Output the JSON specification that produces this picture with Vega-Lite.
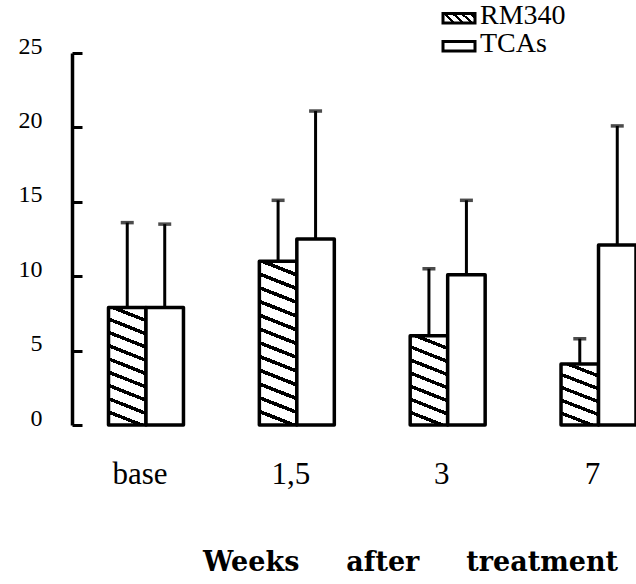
{
  "$schema": "https://vega.github.io/schema/vega-lite/v6.json",
  "autosize": {"type": "none"},
  "padding": {"left": 72, "top": 53, "right": 0, "bottom": 159},
  "width": 564,
  "height": 372,
  "background": "white",
  "config": {
    "view": {"stroke": null},
    "axis": {"grid": false}
  },
  "data": {
    "values": [
      {"week": "base", "group": "RM340", "mean": 7.9, "upper": 13.6},
      {"week": "base", "group": "TCAs", "mean": 7.9, "upper": 13.5},
      {"week": "1,5", "group": "RM340", "mean": 11.0, "upper": 15.1},
      {"week": "1,5", "group": "TCAs", "mean": 12.5, "upper": 21.1},
      {"week": "3", "group": "RM340", "mean": 6.0, "upper": 10.5},
      {"week": "3", "group": "TCAs", "mean": 10.1, "upper": 15.1},
      {"week": "7", "group": "RM340", "mean": 4.1, "upper": 5.8},
      {"week": "7", "group": "TCAs", "mean": 12.1, "upper": 20.1}
    ]
  },
  "encoding": {
    "x": {
      "field": "week", "type": "nominal", "sort": ["base", "1,5", "3", "7"],
      "scale": {"paddingInner": 0.503, "paddingOuter": 0.121, "align": 1},
      "axis": {
        "domain": false, "ticks": false, "labelAngle": 0,
        "labelFont": "Liberation Serif", "labelFontSize": 31, "labelColor": "black",
        "labelBaseline": "alphabetic", "labelPadding": 58, "labelOffset": -6,
        "title": "Weeks\u00a0\u00a0\u00a0\u00a0 after\u00a0\u00a0\u00a0\u00a0 treatment",
        "titleFont": "DejaVu Serif", "titleFontWeight": "bold", "titleFontSize": 27, "titleColor": "black",
        "titleX": 338, "titleY": 145, "titleBaseline": "alphabetic", "titleAlign": "center"
      }
    },
    "xOffset": {"field": "group", "type": "nominal", "sort": ["RM340", "TCAs"], "scale": {"paddingInner": 0, "paddingOuter": 0}},
    "y": {
      "field": "mean", "type": "quantitative",
      "scale": {"domain": [0, 25], "nice": false, "zero": true},
      "axis": {
        "values": [0, 5, 10, 15, 20, 25], "title": null,
        "domainColor": "black", "domainWidth": 3.5,
        "tickColor": "black", "tickWidth": 3, "tickSize": -10,
        "labelFont": "Liberation Serif", "labelFontSize": 24, "labelColor": "black",
        "labelBaseline": "alphabetic", "labelPadding": 40
      }
    }
  },
  "layer": [
    {
      "mark": {"type": "bar", "strokeWidth": 3.5, "strokeJoin": "round"},
      "encoding": {
        "stroke": {
          "field": "group", "type": "nominal", "sort": ["RM340", "TCAs"],
          "scale": {"range": ["black", "black"]},
          "legend": {
            "orient": "none", "legendX": 373, "legendY": -51, "title": null, "padding": 0,
            "symbolType": "M-1.6,-0.25L1.6,-0.25L1.6,0.7L-1.6,0.7Z", "symbolSize": 400,
            "symbolStrokeWidth": 3, "symbolStrokeColor": "black",
            "labelFont": "Liberation Serif", "labelFontSize": 28, "labelColor": "black",
            "labelOffset": 7, "rowPadding": -3,
            "encoding": {
              "symbols": {
                "fill": {
                  "condition": {"test": "datum.value === 'RM340'", "value": {"gradient": "linear", "x1": 1, "y1": 0, "x2": 0, "y2": 0.33, "stops": [
                    {"offset": 0, "color": "white"},
                    {"offset": 0.081, "color": "white"}, {"offset": 0.081, "color": "black"}, {"offset": 0.169, "color": "black"}, {"offset": 0.169, "color": "white"},
                    {"offset": 0.331, "color": "white"}, {"offset": 0.331, "color": "black"}, {"offset": 0.419, "color": "black"}, {"offset": 0.419, "color": "white"},
                    {"offset": 0.581, "color": "white"}, {"offset": 0.581, "color": "black"}, {"offset": 0.669, "color": "black"}, {"offset": 0.669, "color": "white"},
                    {"offset": 0.831, "color": "white"}, {"offset": 0.831, "color": "black"}, {"offset": 0.919, "color": "black"}, {"offset": 0.919, "color": "white"},
                    {"offset": 1, "color": "white"}
                  ]}},
                  "value": "white"
                },
                "stroke": {"value": "black"},
                "strokeWidth": {"value": 3}
              }
            }
          }
        },
        "fill": {
          "condition": [
            {"test": "datum.group === 'RM340' && datum.week === 'base'", "value": {"gradient": "linear", "x1": 0.563, "y1": 0, "x2": 0.437, "y2": 1, "stops": [
              {"offset": 0, "color": "white"},
              {"offset": 0.04, "color": "white"}, {"offset": 0.04, "color": "black"}, {"offset": 0.0711, "color": "black"}, {"offset": 0.0711, "color": "white"},
              {"offset": 0.1511, "color": "white"}, {"offset": 0.1511, "color": "black"}, {"offset": 0.1822, "color": "black"}, {"offset": 0.1822, "color": "white"},
              {"offset": 0.2622, "color": "white"}, {"offset": 0.2622, "color": "black"}, {"offset": 0.2933, "color": "black"}, {"offset": 0.2933, "color": "white"},
              {"offset": 0.3733, "color": "white"}, {"offset": 0.3733, "color": "black"}, {"offset": 0.4044, "color": "black"}, {"offset": 0.4044, "color": "white"},
              {"offset": 0.4844, "color": "white"}, {"offset": 0.4844, "color": "black"}, {"offset": 0.5156, "color": "black"}, {"offset": 0.5156, "color": "white"},
              {"offset": 0.5956, "color": "white"}, {"offset": 0.5956, "color": "black"}, {"offset": 0.6267, "color": "black"}, {"offset": 0.6267, "color": "white"},
              {"offset": 0.7067, "color": "white"}, {"offset": 0.7067, "color": "black"}, {"offset": 0.7378, "color": "black"}, {"offset": 0.7378, "color": "white"},
              {"offset": 0.8178, "color": "white"}, {"offset": 0.8178, "color": "black"}, {"offset": 0.8489, "color": "black"}, {"offset": 0.8489, "color": "white"},
              {"offset": 0.9289, "color": "white"}, {"offset": 0.9289, "color": "black"}, {"offset": 0.96, "color": "black"}, {"offset": 0.96, "color": "white"},
              {"offset": 1, "color": "white"}
            ]}},
            {"test": "datum.group === 'RM340' && datum.week === '1,5'", "value": {"gradient": "linear", "x1": 0.545, "y1": 0, "x2": 0.455, "y2": 1, "stops": [
              {"offset": 0, "color": "white"},
              {"offset": 0.03, "color": "white"}, {"offset": 0.03, "color": "black"}, {"offset": 0.0533, "color": "black"}, {"offset": 0.0533, "color": "white"},
              {"offset": 0.1133, "color": "white"}, {"offset": 0.1133, "color": "black"}, {"offset": 0.1367, "color": "black"}, {"offset": 0.1367, "color": "white"},
              {"offset": 0.1967, "color": "white"}, {"offset": 0.1967, "color": "black"}, {"offset": 0.22, "color": "black"}, {"offset": 0.22, "color": "white"},
              {"offset": 0.28, "color": "white"}, {"offset": 0.28, "color": "black"}, {"offset": 0.3033, "color": "black"}, {"offset": 0.3033, "color": "white"},
              {"offset": 0.3633, "color": "white"}, {"offset": 0.3633, "color": "black"}, {"offset": 0.3867, "color": "black"}, {"offset": 0.3867, "color": "white"},
              {"offset": 0.4467, "color": "white"}, {"offset": 0.4467, "color": "black"}, {"offset": 0.47, "color": "black"}, {"offset": 0.47, "color": "white"},
              {"offset": 0.53, "color": "white"}, {"offset": 0.53, "color": "black"}, {"offset": 0.5533, "color": "black"}, {"offset": 0.5533, "color": "white"},
              {"offset": 0.6133, "color": "white"}, {"offset": 0.6133, "color": "black"}, {"offset": 0.6367, "color": "black"}, {"offset": 0.6367, "color": "white"},
              {"offset": 0.6967, "color": "white"}, {"offset": 0.6967, "color": "black"}, {"offset": 0.72, "color": "black"}, {"offset": 0.72, "color": "white"},
              {"offset": 0.78, "color": "white"}, {"offset": 0.78, "color": "black"}, {"offset": 0.8033, "color": "black"}, {"offset": 0.8033, "color": "white"},
              {"offset": 0.8633, "color": "white"}, {"offset": 0.8633, "color": "black"}, {"offset": 0.8867, "color": "black"}, {"offset": 0.8867, "color": "white"},
              {"offset": 0.9467, "color": "white"}, {"offset": 0.9467, "color": "black"}, {"offset": 0.97, "color": "black"}, {"offset": 0.97, "color": "white"},
              {"offset": 1, "color": "white"}
            ]}},
            {"test": "datum.group === 'RM340' && datum.week === '3'", "value": {"gradient": "linear", "x1": 0.583, "y1": 0, "x2": 0.417, "y2": 1, "stops": [
              {"offset": 0, "color": "white"},
              {"offset": 0.0514, "color": "white"}, {"offset": 0.0514, "color": "black"}, {"offset": 0.0914, "color": "black"}, {"offset": 0.0914, "color": "white"},
              {"offset": 0.1943, "color": "white"}, {"offset": 0.1943, "color": "black"}, {"offset": 0.2343, "color": "black"}, {"offset": 0.2343, "color": "white"},
              {"offset": 0.3371, "color": "white"}, {"offset": 0.3371, "color": "black"}, {"offset": 0.3771, "color": "black"}, {"offset": 0.3771, "color": "white"},
              {"offset": 0.48, "color": "white"}, {"offset": 0.48, "color": "black"}, {"offset": 0.52, "color": "black"}, {"offset": 0.52, "color": "white"},
              {"offset": 0.6229, "color": "white"}, {"offset": 0.6229, "color": "black"}, {"offset": 0.6629, "color": "black"}, {"offset": 0.6629, "color": "white"},
              {"offset": 0.7657, "color": "white"}, {"offset": 0.7657, "color": "black"}, {"offset": 0.8057, "color": "black"}, {"offset": 0.8057, "color": "white"},
              {"offset": 0.9086, "color": "white"}, {"offset": 0.9086, "color": "black"}, {"offset": 0.9486, "color": "black"}, {"offset": 0.9486, "color": "white"},
              {"offset": 1, "color": "white"}
            ]}},
            {"test": "datum.group === 'RM340' && datum.week === '7'", "value": {"gradient": "linear", "x1": 0.6185, "y1": 0, "x2": 0.3815, "y2": 1, "stops": [
              {"offset": 0, "color": "white"},
              {"offset": 0.072, "color": "white"}, {"offset": 0.072, "color": "black"}, {"offset": 0.128, "color": "black"}, {"offset": 0.128, "color": "white"},
              {"offset": 0.272, "color": "white"}, {"offset": 0.272, "color": "black"}, {"offset": 0.328, "color": "black"}, {"offset": 0.328, "color": "white"},
              {"offset": 0.472, "color": "white"}, {"offset": 0.472, "color": "black"}, {"offset": 0.528, "color": "black"}, {"offset": 0.528, "color": "white"},
              {"offset": 0.672, "color": "white"}, {"offset": 0.672, "color": "black"}, {"offset": 0.728, "color": "black"}, {"offset": 0.728, "color": "white"},
              {"offset": 0.872, "color": "white"}, {"offset": 0.872, "color": "black"}, {"offset": 0.928, "color": "black"}, {"offset": 0.928, "color": "white"},
              {"offset": 1, "color": "white"}
            ]}}
          ],
          "value": "white"
        }
      }
    },
    {
      "mark": {"type": "rule", "color": "black", "strokeWidth": 3},
      "encoding": {
        "y2": {"field": "upper"}
      }
    },
    {
      "mark": {"type": "tick", "orient": "horizontal", "size": 13, "thickness": 3.5, "color": "black"},
      "encoding": {
        "y": {"field": "upper", "type": "quantitative"}
      }
    }
  ]
}
